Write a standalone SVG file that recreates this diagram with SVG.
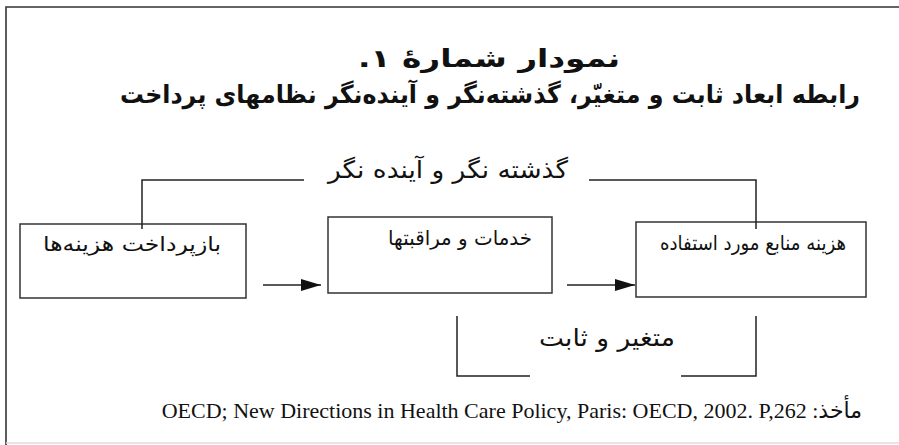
<svg xmlns="http://www.w3.org/2000/svg" width="899" height="445" viewBox="0 0 899 445">
<defs>
<style>
.frame{fill:none;stroke:#333;stroke-width:1.6}
.box{fill:none;stroke:#333;stroke-width:1.5}
.ln{fill:none;stroke:#222;stroke-width:1.5}
.fa{font-family:"DejaVu Sans",sans-serif;fill:#111;direction:rtl}
.title{font-size:25px;font-weight:bold}
.lbl{font-size:20px}
.mid{font-size:24px}
.cite{font-family:"Liberation Serif","DejaVu Sans",serif;font-size:22px;fill:#111;direction:rtl}
</style>
<marker id="ah" viewBox="0 0 20 12" refX="20" refY="6" markerWidth="20" markerHeight="12" markerUnits="userSpaceOnUse" orient="auto">
<path d="M0,0 L20,6 L0,12 Z" fill="#111"/>
</marker>
</defs>
<rect width="899" height="445" fill="#fff"/>
<g id="frame">
<path class="frame" d="M6,445 V7 H899"/>
<path d="M6,443 H899" stroke="#ddd" stroke-width="1.5" fill="none"/>
</g>
<g id="title">
<text class="fa title" x="489" y="67" text-anchor="middle" textLength="262" lengthAdjust="spacingAndGlyphs">نمودار شمارهٔ ۱.</text>
<text class="fa title" x="490" y="103" text-anchor="middle" textLength="740" lengthAdjust="spacingAndGlyphs">رابطه ابعاد ثابت و متغیّر، گذشته‌نگر و آینده‌نگر نظامهای پرداخت</text>
</g>
<g id="node-repayment">
<rect class="box" x="20" y="224" width="226" height="74"/>
<text class="fa lbl" x="221" y="251" text-anchor="start" textLength="178" lengthAdjust="spacingAndGlyphs">بازپرداخت هزینه‌ها</text>
</g>
<g id="node-services">
<rect class="box" x="328" y="217" width="224" height="76"/>
<text class="fa lbl" x="532" y="245" text-anchor="start" textLength="144" lengthAdjust="spacingAndGlyphs">خدمات و مراقبتها</text>
</g>
<g id="node-resources">
<rect class="box" x="636" y="222" width="230" height="75"/>
<text class="fa lbl" x="846" y="250" text-anchor="start" textLength="186" lengthAdjust="spacingAndGlyphs">هزینه منابع مورد استفاده</text>
</g>
<g id="connectors">
<path class="ln" d="M142,229 V180 H304"/>
<path class="ln" d="M589,180 H756 V229"/>
<path class="ln" d="M263,285 H321" marker-end="url(#ah)"/>
<path class="ln" d="M567,285 H635" marker-end="url(#ah)"/>
<path class="ln" d="M457,316 V376 H530"/>
<path class="ln" d="M681,376 H756 V316"/>
</g>
<g id="label-top">
<text class="fa mid" x="448" y="178" text-anchor="middle" textLength="240" lengthAdjust="spacingAndGlyphs">گذشته نگر و آینده نگر</text>
</g>
<g id="label-bottom">
<text class="fa mid" x="607" y="346" text-anchor="middle" textLength="136" lengthAdjust="spacingAndGlyphs">متغیر و ثابت</text>
</g>
<g id="source">
<text class="cite" x="862" y="418" text-anchor="start">مأخذ: OECD; New Directions in Health Care Policy, Paris: OECD, 2002. P,262</text>
</g>
</svg>
